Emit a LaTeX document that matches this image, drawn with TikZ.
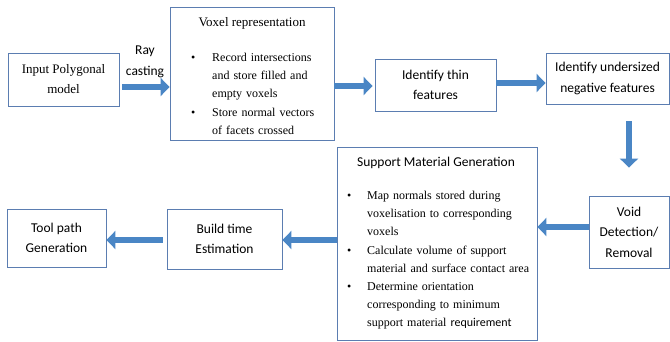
\documentclass[tikz,border=0pt]{standalone}
\usepackage{fontspec}
\setmainfont{Liberation Serif}
\newfontfamily\calfont{Carlito}
\usetikzlibrary{arrows.meta}
\definecolor{boxcol}{HTML}{5B7DB1}
\definecolor{arrowcol}{HTML}{4A86C5}
\newcommand{\bitem}[2]{\par\noindent\hangindent=#1pt\hangafter=1\makebox[#1pt][l]{\textbullet}#2\par}
\tikzset{
  box/.style={draw=boxcol, line width=0.9pt, inner sep=0pt, align=center},
  sanstext/.style={font=\calfont\fontsize{13.5}{20.5}\selectfont},
  seriftext/.style={font=\fontsize{13}{20}\selectfont},
  bullettext/.style={font=\fontsize{12}{18.2}\selectfont, inner sep=0pt},
  flow/.style={line width=6.5pt, draw=arrowcol, -{Triangle[length=9pt,width=18pt]}},
}
\begin{document}
\begin{tikzpicture}[x=1pt,y=-1pt]
\useasboundingbox (0,0) rectangle (670,341);
% boxes
\node[box, seriftext, minimum width=111, minimum height=53] (inp) at (63.5,79.5) {Input Polygonal\\model};
\node[box, minimum width=164, minimum height=133] (vox) at (252,73.5) {};
\node[box, sanstext, minimum width=121, minimum height=52] (thin) at (435.5,85) {Identify thin\\features};
\node[box, sanstext, minimum width=123, minimum height=51] (under) at (607.5,78.5) {Identify undersized\\negative features};
\node[box, minimum width=200, minimum height=193] (supp) at (437,243.5) {};
\node[box, sanstext, minimum width=80, minimum height=72] (void) at (629,232) {Void\\Detection/\\Removal};
\node[box, sanstext, minimum width=115, minimum height=60] (build) at (224.5,239) {Build time\\Estimation};
\node[box, sanstext, minimum width=99, minimum height=58] (tool) at (56.5,238) {Tool path\\Generation};
% inner texts
\node[seriftext, inner sep=0pt] (voxtitle) at (252,23) {Voxel representation};
\node[bullettext, text width=140, anchor=north west] (voxlist) at (191,43) {\raggedright
\bitem{21}{Record intersections\newline and store filled and\newline empty voxels}
\bitem{21}{Store normal vectors\newline of facets crossed}};
\node[sanstext, inner sep=0pt] (supptitle) at (436,163) {Support Material Generation};
\node[bullettext, text width=185, anchor=north west] (supplist) at (347,181) {\raggedright
\bitem{20}{Map normals stored during\newline voxelisation to corresponding\newline voxels}
\bitem{20}{Calculate volume of support\newline material and surface contact area}
\bitem{20}{Determine orientation\newline corresponding to minimum\newline support material {\calfont requirement}}};
\node[sanstext, inner sep=0pt, align=center] (ray) at (145,62) {Ray\\casting};
% arrows
\draw[flow, shorten <=3pt] (inp.east |- 0,87) -- (vox.west |- 0,87);
\draw[flow, shorten >=2pt] (vox.east |- 0,86) -- (thin.west |- 0,86);
\draw[flow] (thin.east |- 0,83) -- (under.west |- 0,83);
\draw[flow, shorten <=17pt, shorten >=28pt] (void.north |- under.south) -- (void.north);
\draw[flow] (void.west |- 0,227) -- (supp.east |- 0,227);
\draw[flow] (supp.west |- 0,240) -- (build.east |- 0,240);
\draw[flow, shorten <=4pt] (build.west |- 0,240) -- (tool.east |- 0,240);
\end{tikzpicture}
\end{document}
